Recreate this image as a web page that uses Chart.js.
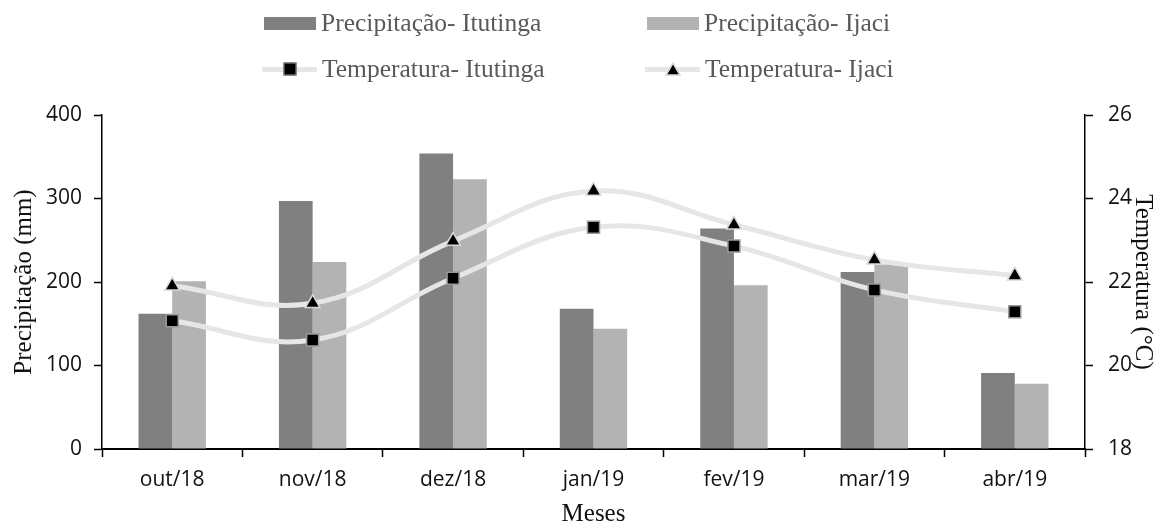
<!DOCTYPE html>
<html lang="pt">
<head>
<meta charset="utf-8">
<title>Precipitação e temperatura</title>
<script src="https://cdn.jsdelivr.net/npm/chart.js@4.4.0/dist/chart.umd.min.js"></script>
<style>
    body { margin: 0; background: #fff; }
    #wrap { position: relative; width: 1158px; height: 529px; }
    #legend {
        position: absolute; left: 0; top: 0; width: 1158px; height: 100px;
        font-family: 'Liberation Serif', 'Times New Roman', serif;
        font-size: 25.5px; color: #595959;
    }
    .item { position: absolute; display: flex; align-items: center; height: 30px; white-space: nowrap; }
    .sw { width: 52px; height: 13px; margin-right: 5px; }
    .ln { position: relative; width: 55px; height: 5px; background: #e6e6e6; margin-right: 5px; }
    .ln .mk { position: absolute; left: 50%; top: 50%; transform: translate(-50%, -50%); }
    .sq { width: 11px; height: 11px; background: #000; border: 1.5px solid #9a9a9a; }
</style>
</head>
<body>
<div id="wrap">
    <canvas id="chart" width="1158" height="529"></canvas>
    <div id="legend">
        <div class="item" style="left:264px; top:8px;"><div class="sw" style="background:#808080"></div>Precipitação- Itutinga</div>
        <div class="item" style="left:647px; top:8px;"><div class="sw" style="background:#b3b3b3"></div>Precipitação- Ijaci</div>
        <div class="item" style="left:262px; top:54px;"><div class="ln"><div class="mk sq"></div></div>Temperatura- Itutinga</div>
        <div class="item" style="left:645px; top:54px;"><div class="ln"><svg class="mk" width="16" height="14" viewBox="0 0 16 14"><polygon points="8,1 15,13 1,13" fill="#000" stroke="#d9d9d9" stroke-width="1.5"/></svg></div>Temperatura- Ijaci</div>
    </div>
</div>
<script>
// dados
const categories = ['out/18', 'nov/18', 'dez/18', 'jan/19', 'fev/19', 'mar/19', 'abr/19'];
const precipItutinga = [162, 297, 354, 168, 264, 212, 91];
const precipIjaci = [201, 224, 323, 144, 196, 221, 78];
const tempItutinga = [21.07, 20.61, 22.09, 23.31, 22.86, 21.81, 21.29];
const tempIjaci = [21.91, 21.49, 22.98, 24.18, 23.37, 22.53, 22.15];

const tickFont = { family: "'Open Sans', sans-serif", size: 21 };
const titleFont = { family: "'Liberation Serif', 'Times New Roman', serif", size: 25 };
const textColor = '#111';

new Chart(document.getElementById('chart'), {
    type: 'bar',
    data: {
        labels: categories,
        datasets: [
            {
                type: 'line',
                label: 'Temperatura- Itutinga',
                data: tempItutinga,
                yAxisID: 'y1',
                borderColor: '#e6e6e6',
                borderWidth: 5,
                tension: 0.4,
                pointStyle: 'rect',
                pointRadius: 8.5,
                pointBackgroundColor: '#000',
                pointBorderColor: '#9a9a9a',
                pointBorderWidth: 1.5,
                order: 0
            },
            {
                type: 'line',
                label: 'Temperatura- Ijaci',
                data: tempIjaci,
                yAxisID: 'y1',
                borderColor: '#e6e6e6',
                borderWidth: 5,
                tension: 0.4,
                pointStyle: 'triangle',
                pointRadius: 8.5,
                pointBackgroundColor: '#000',
                pointBorderColor: '#d9d9d9',
                pointBorderWidth: 1.5,
                order: 0
            },
            {
                label: 'Precipitação- Itutinga',
                data: precipItutinga,
                yAxisID: 'y',
                backgroundColor: '#808080',
                categoryPercentage: 0.48,
                barPercentage: 1,
                order: 1
            },
            {
                label: 'Precipitação- Ijaci',
                data: precipIjaci,
                yAxisID: 'y',
                backgroundColor: '#b3b3b3',
                categoryPercentage: 0.48,
                barPercentage: 1,
                order: 1
            }
        ]
    },
    options: {
        responsive: false,
        animation: false,
        layout: { padding: { top: 115, left: 0, right: 0, bottom: 0 } },
        plugins: {
            legend: { display: false },
            tooltip: { enabled: false }
        },
        scales: {
            x: {
                offset: true,
                grid: { offset: true, drawOnChartArea: false, tickLength: 8, tickColor: '#000', tickWidth: 1.5 },
                border: { color: '#000', width: 2 },
                ticks: { font: tickFont, color: textColor, padding: 10, maxRotation: 0 },
                title: { display: true, text: 'Meses', font: titleFont, color: textColor, padding: { top: 0, bottom: 0 } },
                afterFit: function(scale) { scale.height = 80; }
            },
            y: {
                position: 'left',
                min: 0,
                max: 400,
                ticks: { stepSize: 100, font: tickFont, color: textColor, padding: 12 },
                grid: { drawOnChartArea: false, tickLength: 8, tickColor: '#000', tickWidth: 1.5 },
                border: { color: '#000', width: 1.5 },
                title: { display: true, text: 'Precipitação (mm)', font: titleFont, color: textColor, padding: { top: 9, bottom: 0 } },
                afterFit: function(scale) { scale.width = 102; }
            },
            y1: {
                position: 'right',
                min: 18,
                max: 26,
                ticks: { stepSize: 2, font: tickFont, color: textColor, padding: 15 },
                grid: { drawOnChartArea: false, tickLength: 8, tickColor: '#000', tickWidth: 1.5 },
                border: { color: '#000', width: 1.5 },
                title: { display: true, text: 'Temperatura (°C)', font: titleFont, color: textColor, padding: { top: 0, bottom: 0 } },
                afterFit: function(scale) { scale.width = 73; }
            }
        }
    }
});
</script>
</body>
</html>
